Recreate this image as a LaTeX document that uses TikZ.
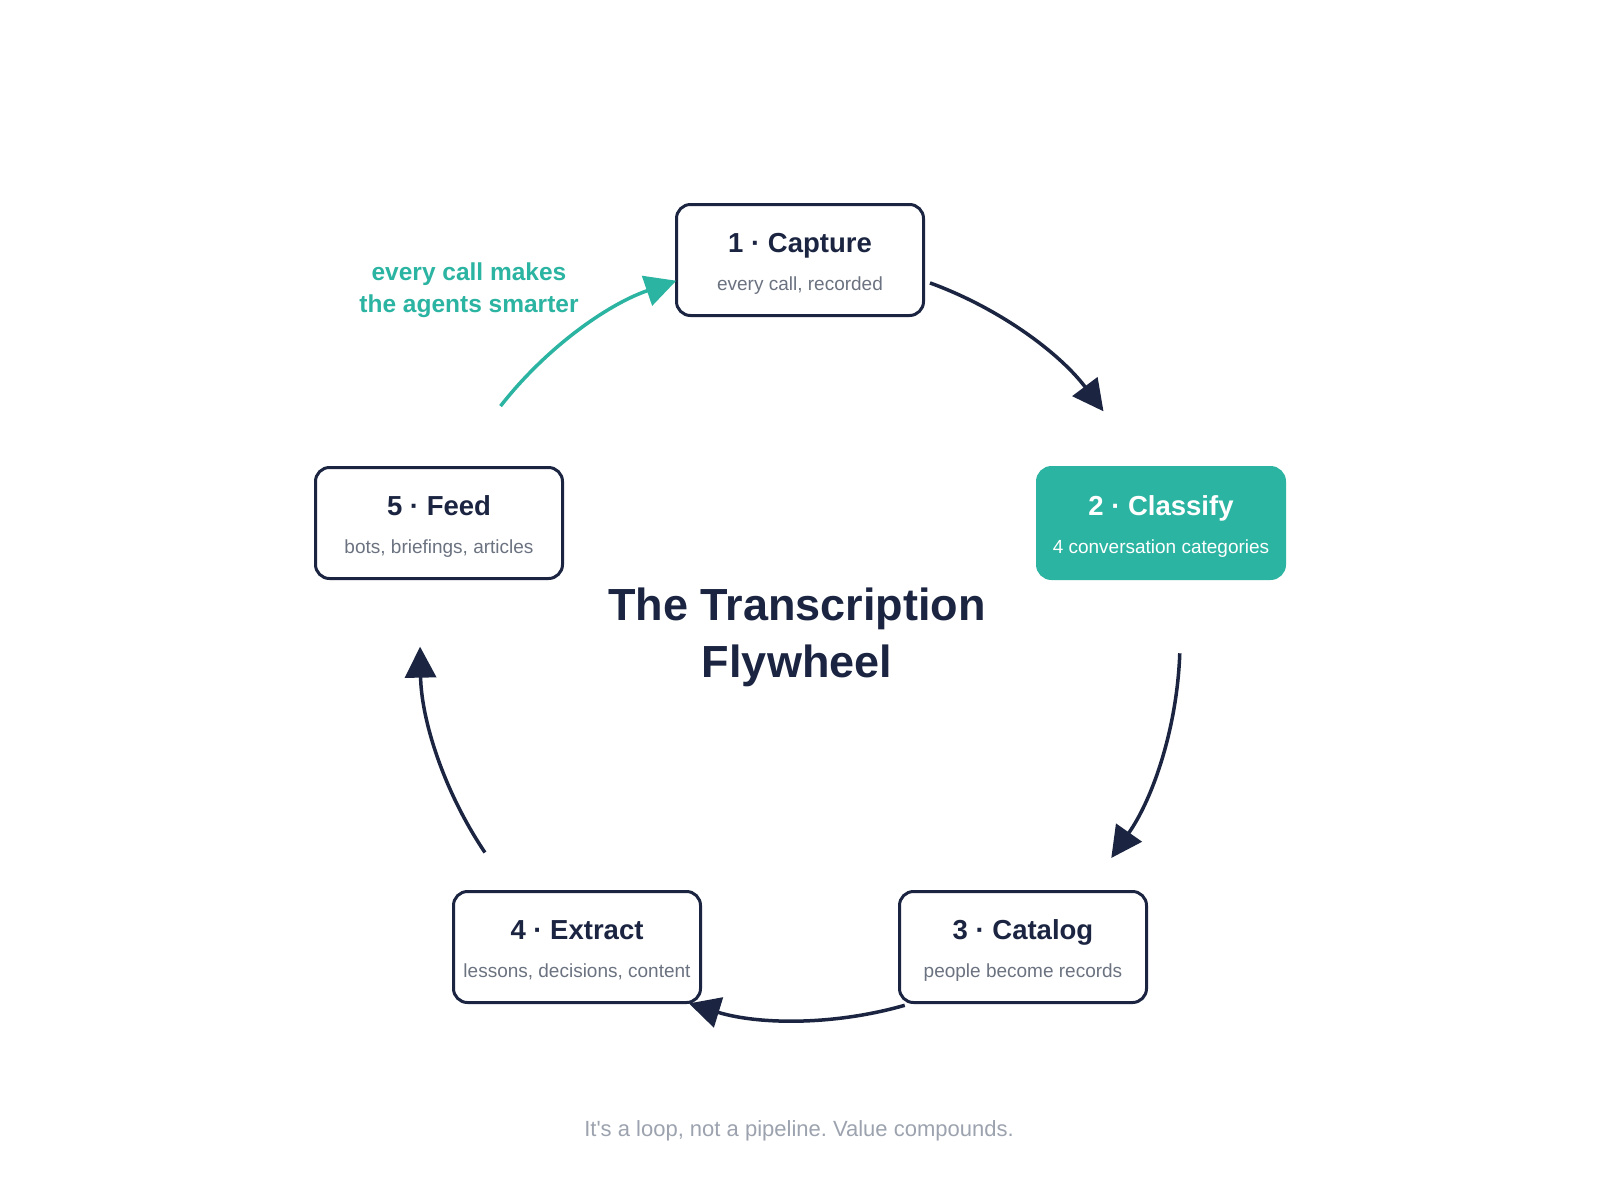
\documentclass[tikz,border=0pt]{standalone}
\usepackage{fontspec}
\setmainfont{Liberation Sans}
\usetikzlibrary{arrows.meta}
\definecolor{navy}{HTML}{1B2541}
\definecolor{tealc}{HTML}{2CB4A2}
\definecolor{subgray}{HTML}{6B7280}
\definecolor{footgray}{HTML}{9CA3AF}
\frenchspacing
\begin{document}
\begin{tikzpicture}[x=1pt,y=-1pt,
  stagebox/.style={draw=navy, line width=3pt, rounded corners=14pt, fill=white,
    minimum width=247pt, minimum height=111pt, inner sep=0pt},
  hotbox/.style={stagebox, draw=tealc, fill=tealc},
  steptitle/.style={anchor=base, inner sep=0pt, text=navy, font=\fontsize{27.5}{30}\selectfont\bfseries},
  stepsub/.style={anchor=base, inner sep=0pt, text=subgray, font=\fontsize{19}{22}\selectfont},
  flow/.style={line width=3.5pt, draw=navy, -{Triangle[length=31pt,width=31pt]}},
  feedflow/.style={flow, draw=tealc, -{Triangle[length=31pt,width=31pt,fill=tealc]}},
  bigtitle/.style={anchor=base, inner sep=0pt, text=navy, font=\fontsize{45}{50}\selectfont\bfseries},
  notelabel/.style={anchor=base, inner sep=0pt, text=tealc, font=\fontsize{24.5}{28}\selectfont\bfseries},
  footnote/.style={anchor=base, inner sep=0pt, text=footgray, font=\fontsize{22}{26}\selectfont}
]
\useasboundingbox (0,0) rectangle (1600,1200);
\fill[white] (0,0) rectangle (1600,1200);

\coordinate (O) at (800,640);

% boxes
\node[stagebox] (b1) at (800,260) {};
\node[hotbox]   (b2) at (1161,523) {};
\node[stagebox] (b3) at (1023,947) {};
\node[stagebox] (b4) at (577,947) {};
\node[stagebox] (b5) at (439,523) {};

% box texts
\node[steptitle] (t1) at ([yshift=8]b1.center) {1 · Capture};
\node[stepsub]   (s1) at ([yshift=-30]b1.center) {every call, recorded};
\node[steptitle, text=white] (t2) at ([yshift=8]b2.center) {2 · Classify};
\node[stepsub, text=white]   (s2) at ([yshift=-30]b2.center) {4 conversation categories};
\node[steptitle] (t3) at ([yshift=8]b3.center) {3 · Catalog};
\node[stepsub]   (s3) at ([yshift=-30]b3.center) {people become records};
\node[steptitle] (t4) at ([yshift=8]b4.center) {4 · Extract};
\node[stepsub]   (s4) at ([yshift=-30]b4.center) {lessons, decisions, content};
\node[steptitle] (t5) at ([yshift=8]b5.center) {5 · Feed};
\node[stepsub]   (s5) at ([yshift=-30]b5.center) {bots, briefings, articles};

% arc end points
\coordinate (a1s) at ([shift={(-70:380)}]O);
\coordinate (a1e) at ([shift={(-37:380)}]O);
\coordinate (a2s) at ([shift={(2:380)}]O);
\coordinate (a2e) at ([shift={(35:380)}]O);
\coordinate (a3s) at ([shift={(74:380)}]O);
\coordinate (a3e) at ([shift={(107:380)}]O);
\coordinate (a4s) at ([shift={(146:380)}]O);
\coordinate (a4e) at ([shift={(179:380)}]O);
\coordinate (a5s) at ([shift={(-142:380)}]O);
\coordinate (a5e) at ([shift={(-109:380)}]O);

\draw[flow] (a1s) arc[start angle=-70, end angle=-37, radius=380];
\draw[flow] (a2s) arc[start angle=2, end angle=35, radius=380];
\draw[flow] (a3s) arc[start angle=74, end angle=107, radius=380];
\draw[flow] (a4s) arc[start angle=146, end angle=179, radius=380];
\draw[feedflow] (a5s) arc[start angle=-142, end angle=-109, radius=380];

% label
\node[notelabel] (n1) at (469,280) {every call makes};
\node[notelabel] (n2) at (469,312) {the agents smarter};

% title
\node[bigtitle] (title1) at (797,620) {The Transcription};
\node[bigtitle] (title2) at (797,677) {Flywheel};

% footer
\node[footnote] (foot) at (799,1136) {It\textquotesingle s a loop, not a pipeline. Value compounds.};
\end{tikzpicture}
\end{document}
